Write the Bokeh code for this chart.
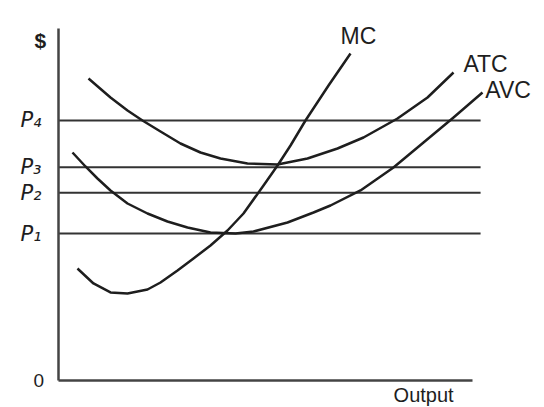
from bokeh.plotting import figure
from bokeh.models import Range1d, FixedTicker, Label, LinearAxis
from bokeh.embed import file_html
from bokeh.resources import INLINE

# ---- data (output units on x, dollars on y) ----
p_levels = [39.5, 50.5, 57.3, 69.9]
p_labels = ["P\u2081", "P\u2082", "P\u2083", "P\u2084"]
p_line_end = 88.3

atc_q = [6.28, 10.88, 14.44, 17.57, 21.34, 25.52, 29.71, 33.89, 39.54, 45.82,
         52.09, 58.37, 63.81, 70.92, 77.20, 82.64]
atc_d = [81.18, 76.08, 72.58, 69.89, 66.94, 63.71, 61.29, 59.68, 58.33, 58.06,
         59.68, 62.37, 65.32, 70.43, 76.08, 82.80]

avc_q = [2.93, 5.65, 8.16, 10.88, 14.44, 18.62, 22.80, 26.99, 31.80, 37.03,
         40.79, 47.91, 53.35, 56.90, 63.18, 70.08, 76.36, 82.64, 88.70]
avc_d = [61.29, 57.53, 54.30, 51.08, 47.58, 44.89, 42.74, 41.13, 39.78, 39.52,
         40.05, 42.47, 45.16, 47.04, 51.08, 57.26, 63.98, 70.70, 77.42]

mc_q = [3.97, 7.32, 10.88, 14.44, 18.62, 21.34, 24.90, 28.24, 31.80, 35.36,
        38.70, 42.89, 45.82, 48.54, 51.67, 56.49, 61.09]
mc_d = [30.11, 26.08, 23.66, 23.39, 24.46, 26.34, 29.57, 32.80, 36.29, 40.32,
        44.89, 52.42, 57.80, 63.17, 69.89, 79.30, 87.90]

x_axis_end = 86.6
y_axis_end = 94.6

INK = "#1e1e1e"
LINE = "#333333"
AXIS = "#444444"

p = figure(width=544, height=407, output_backend="svg", toolbar_location=None,
           x_range=Range1d(-12.13, 101.67), y_range=Range1d(-7.26, 102.15),
           x_axis_location=None, y_axis_location=None,
           min_border=0, min_border_left=0, min_border_right=0,
           min_border_top=0, min_border_bottom=0)
p.outline_line_color = None
p.grid.visible = False
p.background_fill_color = "white"
p.border_fill_color = "white"

# axes fixed at the origin
xax = LinearAxis(fixed_location=0, ticker=FixedTicker(ticks=[]), bounds=(0, x_axis_end),
                 axis_line_color=AXIS, axis_line_width=2.5,
                 major_tick_line_color=None, minor_tick_line_color=None)
p.add_layout(xax, "below")

yax = LinearAxis(fixed_location=0, ticker=FixedTicker(ticks=p_levels), bounds=(0, y_axis_end),
                 axis_line_color=AXIS, axis_line_width=2.5,
                 major_tick_line_color=None, minor_tick_line_color=None,
                 major_label_overrides={v: t for v, t in zip(p_levels, p_labels)},
                 major_label_standoff=11,
                 major_label_text_font="DejaVu Sans",
                 major_label_text_font_style="italic",
                 major_label_text_font_size="21px",
                 major_label_text_color=INK)
p.add_layout(yax, "left")

# price lines
for lv in p_levels:
    p.line([0, p_line_end], [lv, lv], line_color=LINE, line_width=2)

# cost curves
p.line(atc_q, atc_d, line_color=INK, line_width=2.5, line_join="round")
p.line(avc_q, avc_d, line_color=INK, line_width=2.5, line_join="round")
p.line(mc_q, mc_d, line_color=INK, line_width=2.5, line_join="round")

def lab(x, y, t, size, align="left", style="normal", font="Liberation Sans"):
    p.add_layout(Label(x=x, y=y, text=t, text_font=font, text_font_size=size,
                       text_align=align, text_baseline="middle", text_color=INK,
                       text_font_style=style))

lab(59.0, 92.7, "MC", "23px")
lab(84.7, 85.2, "ATC", "23px")
lab(89.3, 78.2, "AVC", "23px")
lab(70.1, -3.9, "Output", "20px")
lab(-3.8, 91.4, "$", "21px", align="center", style="bold")
lab(-4.1, 0.0, "0", "19px", align="center")

open("out.html", "w").write(file_html(p, INLINE))
